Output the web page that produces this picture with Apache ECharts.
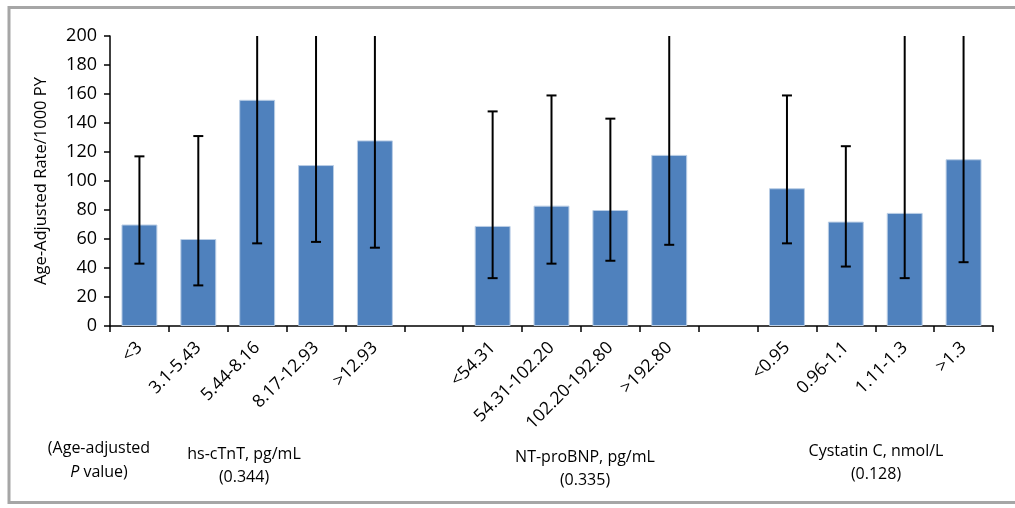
<!DOCTYPE html>
<html>
<head>
<meta charset="utf-8">
<script src="https://cdn.jsdelivr.net/npm/echarts@6/dist/echarts.min.js"></script>
<style>
  html, body { margin: 0; padding: 0; background: #fff; }
  #chart { width: 1015px; height: 508px; }
</style>
</head>
<body>
<div id="chart"></div>
<script>
// categories: three marker groups, blank slots between them
const categories = [
  '<3', '3.1-5.43', '5.44-8.16', '8.17-12.93', '>12.93',
  '',
  '<54.31', '54.31-102.20', '102.20-192.80', '>192.80',
  '',
  '<0.95', '0.96-1.1', '1.11-1.3', '>1.3'
]
// age-adjusted rate per 1000 PY
const rates = [70, 60, 156, 111, 128, null, 69, 83, 80, 118, null, 95, 72, 78, 115]
// 95% CI, upper values of 200 are clipped at the top of the axis
const ciLow = [43, 28, 57, 58, 54, null, 33, 43, 45, 56, null, 57, 41, 33, 44]
const ciHigh = [117, 131, 200, 200, 200, null, 148, 159, 143, 200, null, 159, 124, 200, 200]

const groupLabels = [
  { x: 244, y: 443, lines: ['hs-cTnT, pg/mL', '(0.344)'] },
  { x: 585, y: 446, lines: ['NT-proBNP, pg/mL', '(0.335)'] },
  { x: 876, y: 440, lines: ['Cystatin C, nmol/L', '(0.128)'] }
]

const FONT = '"Open Sans"'
const chart = echarts.init(document.getElementById('chart'))

const errData = []
for (let i = 0; i < categories.length; i++) {
  if (rates[i] == null) continue
  errData.push([i, ciLow[i], ciHigh[i]])
}

const graphics = [
  {
    type: 'rect',
    shape: { x: 9, y: 7.5, width: 1030, height: 495 },
    style: { fill: 'none', stroke: '#a6a6a6', lineWidth: 3 },
    silent: true
  },
  {
    type: 'text',
    x: 99, y: 436,
    style: {
      text: '(Age-adjusted\n{i|P} value)',
      font: '16px ' + FONT,
      fill: '#000',
      align: 'center',
      lineHeight: 24,
      rich: { i: { fontStyle: 'italic', fontSize: 16, fontFamily: 'Open Sans' } }
    }
  }
]
groupLabels.forEach(g => {
  graphics.push({
    type: 'text',
    x: g.x, y: g.y,
    style: {
      text: g.lines.join('\n'),
      font: '16px ' + FONT,
      fill: '#000',
      align: 'center',
      lineHeight: 23
    }
  })
})

const option = {
  animation: false,
  backgroundColor: '#fff',
  grid: { left: 110, right: 22, top: 36, bottom: 182 },
  xAxis: {
    type: 'category',
    data: categories,
    axisLine: { lineStyle: { color: '#000', width: 1.5 } },
    axisTick: { show: true, length: 6, lineStyle: { color: '#000', width: 1.5 } },
    axisLabel: {
      interval: 0,
      rotate: 45,
      margin: 19,
      color: '#000',
      fontSize: 17.5,
      fontFamily: 'Open Sans'
    }
  },
  yAxis: {
    type: 'value',
    min: 0,
    max: 200,
    interval: 20,
    name: 'Age-Adjusted Rate/1000 PY',
    nameLocation: 'middle',
    nameGap: 60,
    nameTextStyle: { color: '#000', fontSize: 16.5, fontFamily: 'Open Sans' },
    splitLine: { show: false },
    axisLine: { show: true, lineStyle: { color: '#000', width: 1.5 } },
    axisTick: { show: true, length: 6, lineStyle: { color: '#000', width: 1.5 } },
    axisLabel: { color: '#000', fontSize: 18, fontFamily: 'Open Sans', margin: 13 }
  },
  series: [
    {
      type: 'bar',
      data: rates,
      barCategoryGap: '39%',
      itemStyle: { color: '#4f81bd', borderColor: '#b9cde5', borderWidth: 1 }
    },
    {
      type: 'custom',
      data: errData,
      z: 10,
      renderItem: (params, api) => {
        const idx = api.value(0)
        const lo = api.coord([idx, api.value(1)])
        const hiVal = api.value(2)
        const hi = api.coord([idx, Math.min(hiVal, 200)])
        const capW = 5
        const style = { stroke: '#000', lineWidth: 2 }
        const children = [
          { type: 'line', shape: { x1: lo[0], y1: lo[1], x2: hi[0], y2: hi[1] }, style },
          { type: 'line', shape: { x1: lo[0] - capW, y1: lo[1], x2: lo[0] + capW, y2: lo[1] }, style }
        ]
        if (hiVal < 200) {
          children.push({ type: 'line', shape: { x1: hi[0] - capW, y1: hi[1], x2: hi[0] + capW, y2: hi[1] }, style })
        }
        return { type: 'group', children }
      }
    }
  ],
  graphic: graphics
}

chart.setOption(option)
</script>
</body>
</html>
